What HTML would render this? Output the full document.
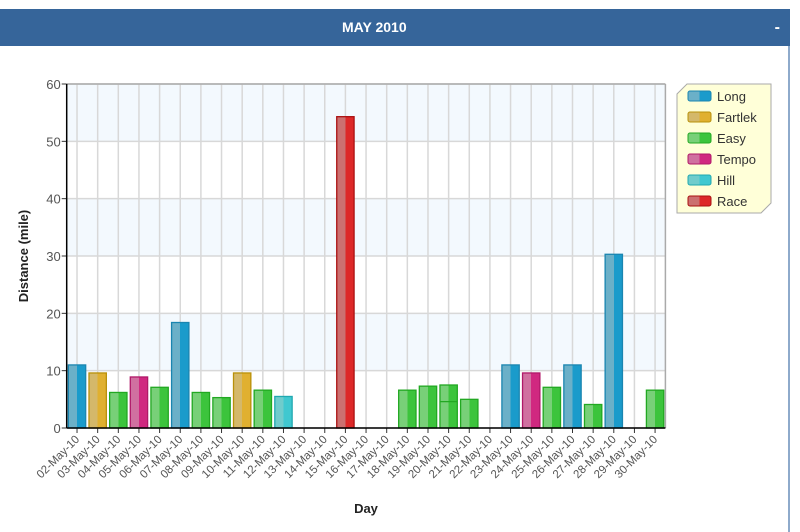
<!DOCTYPE html>
<html><head><meta charset="utf-8"><style>
body{margin:0;width:800px;height:532px;background:#fff;font-family:"Liberation Sans",sans-serif;overflow:hidden;position:relative}
#hdr{position:absolute;left:0;top:9px;width:790px;height:37px;background:#36659a;color:#fff;font-weight:bold;font-size:14px;line-height:37px}
#ttl{position:absolute;left:342px;top:0}
#min{position:absolute;right:10px;top:0;font-size:16px}
#rb{position:absolute;left:788px;top:46px;width:2px;height:486px;background:#8eaacb}
svg{position:absolute;left:0;top:0}
</style></head><body>
<div id="hdr"><span id="ttl">MAY 2010</span><span id="min">-</span></div>
<div id="rb"></div>
<svg id="c" width="800" height="532"></svg>
<script>
const categories=["02-May-10","03-May-10","04-May-10","05-May-10","06-May-10","07-May-10","08-May-10","09-May-10","10-May-10","11-May-10","12-May-10","13-May-10","14-May-10","15-May-10","16-May-10","17-May-10","18-May-10","19-May-10","20-May-10","21-May-10","22-May-10","23-May-10","24-May-10","25-May-10","26-May-10","27-May-10","28-May-10","29-May-10","30-May-10"];
const runTypes=["Long","Fartlek","Easy","Tempo","Easy","Long","Easy","Easy","Fartlek","Easy","Hill","","","Race","","","Easy","Easy","Easy","Easy","","Long","Tempo","Easy","Long","Easy","Long","","Easy"];
const distances=[11,9.6,6.2,8.9,7.1,18.4,6.2,5.3,9.6,6.6,5.5,0,0,54.3,0,0,6.6,7.3,4.6,5.0,0,11,9.6,7.1,11,4.1,30.3,0,6.6];
const secondRun=[0,0,0,0,0,0,0,0,0,0,0,0,0,0,0,0,0,0,2.9,0,0,0,0,0,0,0,0,0,0];
const yTicks=[0,10,20,30,40,50,60];
const legendNames=["Long","Fartlek","Easy","Tempo","Hill","Race"];
const colors={Long:["#6bb0c8","#1a9bcb","#1a85b0"],Fartlek:["#d4b86a","#e0b030","#b8900a"],Easy:["#78d078","#3cc43c","#22a822"],Tempo:["#d070a0","#d02880","#b01868"],Hill:["#70cccc","#40c8d0","#20a8b0"],Race:["#cc7070","#dd2828","#aa1010"]};
const svg=document.getElementById('c');const NS="http://www.w3.org/2000/svg";
function mk(t,a,p){const e=document.createElementNS(NS,t);for(const k in a)e.setAttribute(k,a[k]);(p||svg).appendChild(e);return e;}
const L=66.7,R=665.4,T=84,B=428,yMax=60;
const slot=(R-L)/categories.length;
const xc=i=>L+slot*(i+0.5);const y=v=>B-(v/yMax)*(B-T);
const defs=mk('defs',{});
for(const k in colors){const g=mk('linearGradient',{id:'g'+k,x1:0,x2:1,y1:0,y2:0},defs);mk('stop',{offset:'0','stop-color':colors[k][0]},g);mk('stop',{offset:'0.5','stop-color':colors[k][0]},g);mk('stop',{offset:'0.5','stop-color':colors[k][1]},g);mk('stop',{offset:'1','stop-color':colors[k][1]},g);}
for(let i=0;i<yTicks.length-1;i++){if(i%2==1){const r=mk('rect',{x:L,y:y(yTicks[i+1]),width:R-L,height:y(yTicks[i])-y(yTicks[i+1]),fill:'#f3f9fe'});}}
yTicks.forEach(v=>{const l=mk('line',{x1:L,x2:R,y1:y(v),y2:y(v),stroke:'#d8d8d8','stroke-width':1.5});
const t=mk('text',{x:L-6,y:y(v)+5,'text-anchor':'end','font-size':13,fill:'#555'});t.textContent=v;
mk('line',{x1:L-5,x2:L,y1:y(v),y2:y(v),stroke:'#333'});});
categories.forEach((c,i)=>{const l=mk('line',{x1:xc(i),x2:xc(i),y1:T,y2:B,stroke:'#d8d8d8','stroke-width':1.5});
mk('line',{x1:xc(i),x2:xc(i),y1:B,y2:B+5,stroke:'#333'});
const t=mk('text',{x:xc(i)+3,y:B+12,'text-anchor':'end','font-size':11.5,fill:'#555',transform:`rotate(-45 ${xc(i)+3} ${B+12})`});t.textContent=c;});
mk('line',{x1:L,x2:R,y1:T,y2:T,stroke:'#aaa','stroke-width':1.5});
mk('line',{x1:R,x2:R,y1:T,y2:B,stroke:'#aaa','stroke-width':1.5});
const bw=slot*0.84;
distances.forEach((d,i)=>{if(!runTypes[i])return;const k=runTypes[i];const tot=d+secondRun[i];
const r=mk('rect',{x:xc(i)-bw/2,y:y(tot),width:bw,height:B-y(tot),fill:'url(#g'+k+')',stroke:colors[k][2],'stroke-width':1.3});

if(secondRun[i]>0)mk('line',{x1:xc(i)-bw/2,x2:xc(i)+bw/2,y1:y(d),y2:y(d),stroke:colors[k][2],'stroke-width':1.3});});
mk('line',{x1:L,x2:L,y1:T,y2:B,stroke:'#000','stroke-width':1.5});
mk('line',{x1:L,x2:R,y1:B,y2:B,stroke:'#000','stroke-width':1.5});
let t=mk('text',{x:28,y:256,'text-anchor':'middle','font-size':13,'font-weight':'bold',fill:'#222',transform:'rotate(-90 28 256)'});t.textContent='Distance (mile)';
t=mk('text',{x:366,y:513,'text-anchor':'middle','font-size':13,'font-weight':'bold',fill:'#222'});t.textContent='Day';
const lg=mk('g',{});
mk('path',{d:'M687 84 L771 84 L771 203 L761 213 L677 213 L677 94 Z',fill:'#ffffd8',stroke:'#aaa'},lg);
legendNames.forEach((n,i)=>{const yy=96+i*21;const k=n;
const r=mk('rect',{x:688,y:yy-5,width:23,height:10,rx:2,fill:'url(#g'+k+')',stroke:colors[k][2]},lg);
const tx=mk('text',{x:717,y:yy+5,'font-size':13,fill:'#333'},lg);tx.textContent=n;});
</script>
</body></html>
